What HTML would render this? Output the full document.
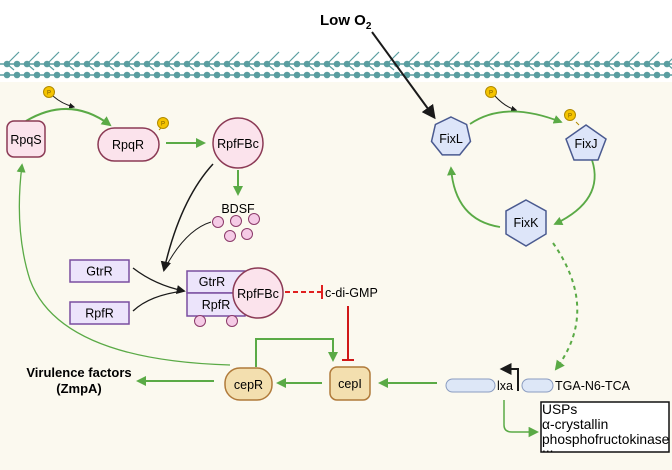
<!DOCTYPE html>
<html><head><meta charset="utf-8"><style>
html,body{margin:0;padding:0;background:#fff}
svg{display:block}
text{font-family:"Liberation Sans",sans-serif}
</style></head><body>
<svg width="672" height="470" viewBox="0 0 672 470" xmlns="http://www.w3.org/2000/svg">
<defs>
<marker id="g" viewBox="0 0 10 10" refX="8" refY="5" markerWidth="5" markerHeight="5" orient="auto" markerUnits="strokeWidth"><path d="M0,0L10,5L0,10z" fill="#5aaa46"/></marker>
<marker id="g2" viewBox="0 0 10 10" refX="8" refY="5" markerWidth="7" markerHeight="7" orient="auto" markerUnits="strokeWidth"><path d="M0,0L10,5L0,10z" fill="#5aaa46"/></marker>
<marker id="k" viewBox="0 0 10 10" refX="8" refY="5" markerWidth="6" markerHeight="6" orient="auto"><path d="M0,0L10,5L0,10z" fill="#1a1a1a"/></marker>
<marker id="ks" viewBox="0 0 10 10" refX="8" refY="5" markerWidth="7" markerHeight="7" orient="auto"><path d="M0,0L10,5L0,10z" fill="#1a1a1a"/></marker>
<pattern id="mem" width="20" height="40" patternUnits="userSpaceOnUse" x="0" y="44">
<line x1="7" y1="20" x2="19" y2="8" stroke="#5a9ea0" stroke-width="1.2"/>
<line x1="7" y1="20" x2="14" y2="26" stroke="#5a9ea0" stroke-width="1.2"/>
<circle cx="7" cy="20" r="3.3" fill="#5a9ea0"/><circle cx="17" cy="20" r="3.3" fill="#5a9ea0"/>
<circle cx="7" cy="31" r="3.3" fill="#5a9ea0"/><circle cx="17" cy="31" r="3.3" fill="#5a9ea0"/>
</pattern>
</defs>
<rect x="0" y="82" width="672" height="388" fill="#fbf9ef"/>
<line x1="0" y1="64" x2="672" y2="64" stroke="#5a9ea0" stroke-width="1.5"/>
<line x1="0" y1="75" x2="672" y2="75" stroke="#5a9ea0" stroke-width="1.5"/>
<rect x="0" y="48" width="672" height="32" fill="url(#mem)"/>

<text x="320" y="25" font-size="15" font-weight="bold">Low O<tspan font-size="10" dy="4">2</tspan></text>
<path d="M372,32 L434,117" stroke="#1a1a1a" stroke-width="2" marker-end="url(#ks)" fill="none"/>

<path d="M53,96 Q62,104 74,107" stroke="#1a1a1a" stroke-width="1" fill="none" marker-end="url(#k)"/>
<circle cx="49" cy="92" r="5.5" fill="#f5c400" stroke="#b08a00"/>
<text x="49" y="94.5" font-size="6" text-anchor="middle" fill="#7a5a00">P</text>
<path d="M26,121 Q70,95 110,125" stroke="#5aaa46" stroke-width="2" fill="none" marker-end="url(#g)"/>
<rect x="7" y="121" width="38" height="36" rx="7" fill="#fbe3ec" stroke="#8b3a55" stroke-width="1.5"/>
<text x="26" y="144" font-size="12.5" text-anchor="middle">RpqS</text>
<rect x="98" y="128" width="61" height="33" rx="16.5" fill="#fbe3ec" stroke="#8b3a55" stroke-width="1.5"/>
<text x="128" y="149" font-size="12.5" text-anchor="middle">RpqR</text>
<line x1="159" y1="130" x2="162" y2="127" stroke="#b08a00"/>
<circle cx="163" cy="123" r="5.5" fill="#f5c400" stroke="#b08a00"/>
<text x="163" y="125.5" font-size="6" text-anchor="middle" fill="#7a5a00">P</text>
<path d="M166,143 L204,143" stroke="#5aaa46" stroke-width="2" marker-end="url(#g)"/>
<circle cx="238" cy="143" r="25" fill="#fbe3ec" stroke="#8b3a55" stroke-width="1.5"/>
<text x="238" y="148" font-size="12.5" text-anchor="middle">RpfFBc</text>
<path d="M238,170 L238,194" stroke="#5aaa46" stroke-width="2" marker-end="url(#g)"/>
<text x="238" y="213" font-size="12.5" text-anchor="middle">BDSF</text>
<g fill="#f5cbe6" stroke="#8b3a6a" stroke-width="1">
<circle cx="218" cy="222" r="5.5"/><circle cx="236" cy="221" r="5.5"/><circle cx="254" cy="219" r="5.5"/><circle cx="230" cy="236" r="5.5"/><circle cx="247" cy="234" r="5.5"/>
</g>
<path d="M213,164 Q180,200 164,270" stroke="#1a1a1a" stroke-width="1.5" fill="none" marker-end="url(#ks)"/>
<path d="M211,222 Q185,230 164,270" stroke="#1a1a1a" stroke-width="1" fill="none"/>
<path d="M133,268 Q155,285 184,291" stroke="#1a1a1a" stroke-width="1.3" fill="none" marker-end="url(#ks)"/>
<path d="M133,311 Q150,295 184,291" stroke="#1a1a1a" stroke-width="1.3" fill="none"/>
<rect x="70" y="260" width="59" height="22" fill="#ece4fb" stroke="#7a4ea0" stroke-width="1.5"/>
<text x="99.5" y="275.5" font-size="12.5" text-anchor="middle">GtrR</text>
<rect x="70" y="302" width="59" height="22" fill="#ece4fb" stroke="#7a4ea0" stroke-width="1.5"/>
<text x="99.5" y="317.5" font-size="12.5" text-anchor="middle">RpfR</text>
<rect x="187" y="271" width="58" height="22" fill="#ece4fb" stroke="#7a4ea0" stroke-width="1.5"/>
<rect x="187" y="293" width="58" height="23" fill="#ece4fb" stroke="#7a4ea0" stroke-width="1.5"/>
<text x="212" y="286" font-size="12.5" text-anchor="middle">GtrR</text>
<text x="216" y="309" font-size="12.5" text-anchor="middle">RpfR</text>
<circle cx="200" cy="321" r="5.5" fill="#f5cbe6" stroke="#8b3a6a"/>
<circle cx="232" cy="321" r="5.5" fill="#f5cbe6" stroke="#8b3a6a"/>
<circle cx="258" cy="293" r="25" fill="#fbe3ec" stroke="#8b3a55" stroke-width="1.5"/>
<text x="258" y="298" font-size="12.5" text-anchor="middle">RpfFBc</text>
<line x1="285" y1="292" x2="321" y2="292" stroke="#e02020" stroke-width="2" stroke-dasharray="5,3"/>
<line x1="322" y1="285" x2="322" y2="299" stroke="#e02020" stroke-width="2"/>
<text x="325" y="297" font-size="12.5">c-di-GMP</text>
<line x1="348" y1="306" x2="348" y2="360" stroke="#d01818" stroke-width="2"/>
<line x1="342" y1="360" x2="354" y2="360" stroke="#d01818" stroke-width="2"/>

<path d="M230,365 Q60,360 30,280 Q14,230 22,165" stroke="#5aaa46" stroke-width="1.3" fill="none" marker-end="url(#g2)"/>
<path d="M256,367 L256,339 L333,339 L333,360" stroke="#5aaa46" stroke-width="2" fill="none" marker-end="url(#g)"/>
<rect x="225" y="368" width="47" height="32" rx="15" fill="#f3dfaf" stroke="#b07a3a" stroke-width="1.5"/>
<text x="248.5" y="389" font-size="12.5" text-anchor="middle">cepR</text>
<rect x="330" y="367" width="40" height="33" rx="7" fill="#f3dfaf" stroke="#b07a3a" stroke-width="1.5"/>
<text x="350" y="388" font-size="12.5" text-anchor="middle">cepI</text>
<path d="M322,383 L278,383" stroke="#5aaa46" stroke-width="2" marker-end="url(#g)"/>
<path d="M214,381 L138,381" stroke="#5aaa46" stroke-width="2" marker-end="url(#g)"/>
<text x="79" y="377" font-size="13" font-weight="bold" text-anchor="middle">Virulence factors</text>
<text x="79" y="393" font-size="13" font-weight="bold" text-anchor="middle">(ZmpA)</text>
<path d="M437,383 L380,383" stroke="#5aaa46" stroke-width="2" marker-end="url(#g)"/>

<rect x="446" y="379" width="49" height="13" rx="6.5" fill="#dde7f7" stroke="#8a9cc0" stroke-width="1"/>
<text x="497" y="390" font-size="12.5">lxa</text>
<path d="M518,391 L518,369 L502,369" stroke="#1a1a1a" stroke-width="2" fill="none" marker-end="url(#k)"/>
<rect x="522" y="379" width="31" height="13" rx="6.5" fill="#dde7f7" stroke="#8a9cc0" stroke-width="1"/>
<text x="555" y="390" font-size="12.5">TGA-N6-TCA</text>
<path d="M504,400 L504,425 Q504,432 512,432 L537,432" stroke="#5aaa46" stroke-width="1.5" fill="none" marker-end="url(#g2)"/>
<rect x="541" y="402" width="128" height="50" fill="#fff" stroke="#111" stroke-width="1.5"/>
<text font-size="13.8"><tspan x="542" y="414">USPs</tspan><tspan x="542" y="429">α-crystallin</tspan><tspan x="542" y="444">phosphofructokinase</tspan><tspan x="542" y="452">...</tspan></text>

<path d="M495,96 Q505,107 516,110" stroke="#1a1a1a" stroke-width="1" fill="none" marker-end="url(#k)"/>
<circle cx="491" cy="92" r="5.5" fill="#f5c400" stroke="#b08a00"/>
<text x="491" y="94.5" font-size="6" text-anchor="middle" fill="#7a5a00">P</text>
<path d="M470,124 Q505,100 561,122" stroke="#5aaa46" stroke-width="1.8" fill="none" marker-end="url(#g)"/>
<path d="M592,160 Q605,200 555,224" stroke="#5aaa46" stroke-width="1.8" fill="none" marker-end="url(#g)"/>
<path d="M500,227 Q455,220 451,168" stroke="#5aaa46" stroke-width="1.8" fill="none" marker-end="url(#g)"/>
<path d="M553,243 Q600,310 556,369" stroke="#5aaa46" stroke-width="2" stroke-dasharray="4,4" fill="none" marker-end="url(#g)"/>
<polygon points="451,117 466.6,124.5 470.5,141.4 459.7,154.9 442.3,154.9 431.5,141.4 435.4,124.5" fill="#dde5f9" stroke="#4a5a90" stroke-width="1.5"/>
<text x="451" y="143" font-size="12.5" text-anchor="middle">FixL</text>
<line x1="576" y1="122" x2="579" y2="125" stroke="#b08a00"/>
<circle cx="570" cy="115" r="5.5" fill="#f5c400" stroke="#b08a00"/>
<text x="570" y="117.5" font-size="6" text-anchor="middle" fill="#7a5a00">P</text>
<polygon points="586,125 606,139 598,160 574,160 566,139" fill="#dde5f9" stroke="#4a5a90" stroke-width="1.5"/>
<text x="586" y="148" font-size="12.5" text-anchor="middle">FixJ</text>
<polygon points="526,200 546,211 546,234 526,246 506,234 506,211" fill="#dde5f9" stroke="#4a5a90" stroke-width="1.5"/>
<text x="526" y="227" font-size="12.5" text-anchor="middle">FixK</text>
</svg>
</body></html>
